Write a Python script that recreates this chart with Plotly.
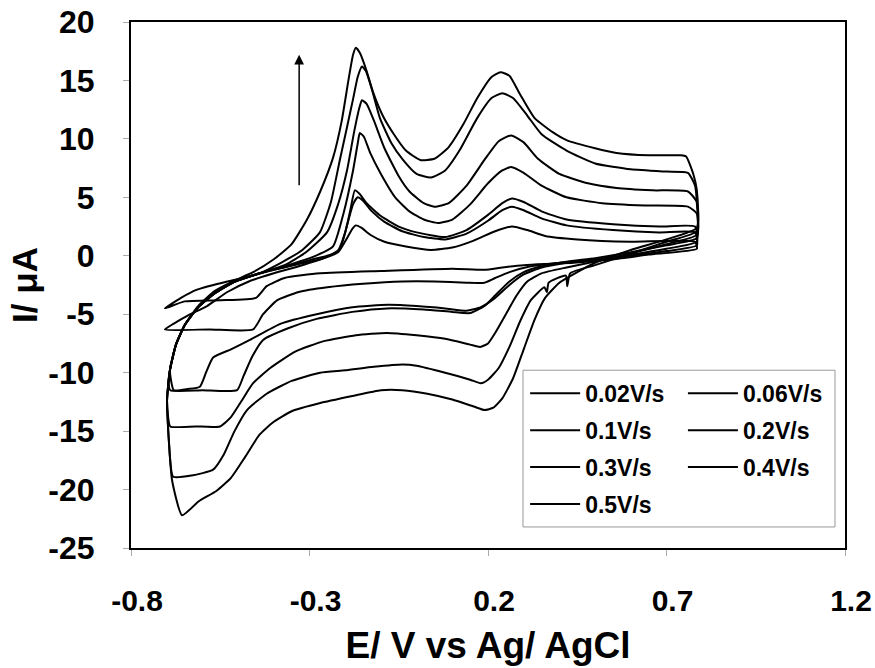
import plotly.graph_objects as go

# ---------------- data ----------------
scan_rates = ["0.02V/s", "0.06V/s", "0.1V/s", "0.2V/s", "0.3V/s", "0.4V/s", "0.5V/s"]

x_tickvals = [-0.8, -0.3, 0.2, 0.7, 1.2]
x_ticktext = ["-0.8", "-0.3", "0.2", "0.7", "1.2"]
y_tickvals = [20, 15, 10, 5, 0, -5, -10, -15, -20, -25]
y_ticktext = ["20", "15", "10", "5", "0", "-5", "-10", "-15", "-20", "-25"]

# each curve: (E / V, I / uA) points, forward scan then reverse scan
cv_002 = [(-0.705, -4.5), (-0.66, -3.6), (-0.615, -2.9), (-0.53, -2.2), (-0.47, -1.8), (-0.40, -1.2),
          (-0.33, -0.7), (-0.27, -0.3), (-0.22, 0.3), (-0.195, 1.5), (-0.18, 2.3), (-0.17, 2.6),
          (-0.155, 2.4), (-0.13, 1.8), (-0.09, 1.2), (-0.03, 0.8), (0.04, 0.5), (0.10, 0.7),
          (0.16, 1.3), (0.22, 2.1), (0.267, 2.5), (0.31, 2.2), (0.36, 1.7), (0.45, 1.4),
          (0.60, 1.2), (0.78, 1.2),
          (0.785, 0.6), (0.65, 0.1), (0.55, -0.3), (0.44, -0.6), (0.36, -0.7), (0.30, -0.8),
          (0.24, -1.0), (0.19, -1.2), (0.10, -1.1), (-0.10, -1.3), (-0.27, -1.5), (-0.37, -1.9),
          (-0.42, -2.6), (-0.45, -3.6), (-0.55, -3.8), (-0.65, -3.9), (-0.705, -4.5)]

cv_006 = [(-0.705, -6.3), (-0.68, -5.8), (-0.64, -5.1), (-0.587, -4.3), (-0.53, -3.1), (-0.47, -2.2),
          (-0.40, -1.5), (-0.33, -0.9), (-0.26, -0.2), (-0.215, 0.6), (-0.195, 2.6), (-0.178, 4.4),
          (-0.165, 5.0), (-0.15, 4.7), (-0.125, 3.8), (-0.09, 2.9), (-0.04, 2.1), (0.02, 1.6),
          (0.08, 1.4), (0.14, 1.9), (0.20, 3.0), (0.24, 3.9), (0.267, 4.2), (0.30, 3.9),
          (0.35, 3.2), (0.42, 2.6), (0.55, 2.2), (0.68, 2.0), (0.78, 2.0),
          (0.785, 0.9), (0.70, 0.4), (0.60, 0.0), (0.50, -0.3), (0.40, -0.6), (0.32, -0.9),
          (0.26, -1.4), (0.22, -1.9), (0.19, -2.3), (0.14, -2.3), (0.05, -2.2), (-0.04, -2.2),
          (-0.15, -2.4), (-0.25, -2.7), (-0.33, -3.1), (-0.39, -3.8), (-0.43, -5.0),
          (-0.458, -6.3), (-0.58, -6.3), (-0.705, -6.3)]

cv_01 = [(-0.68, -11.5), (-0.691, -9.8), (-0.674, -7.6), (-0.649, -5.9), (-0.612, -4.4), (-0.565, -3.2),
         (-0.509, -2.2), (-0.44, -1.5), (-0.36, -0.9), (-0.29, -0.3), (-0.223, 0.3), (-0.20, 2.0),
         (-0.185, 4.0), (-0.173, 5.6), (-0.16, 5.3), (-0.14, 4.5), (-0.10, 3.4), (-0.05, 2.5),
         (0.0, 2.0), (0.08, 1.6), (0.14, 2.2), (0.20, 3.5), (0.24, 4.5), (0.267, 4.9), (0.30, 4.6),
         (0.35, 3.8), (0.42, 3.1), (0.55, 2.7), (0.68, 2.5), (0.78, 2.5),
         (0.785, 1.2), (0.70, 0.6), (0.60, 0.1), (0.50, -0.3), (0.42, -0.6), (0.35, -1.0),
         (0.30, -1.6), (0.26, -2.5), (0.22, -3.6), (0.18, -4.4), (0.14, -4.7), (0.08, -4.5),
         (0.0, -4.3), (-0.08, -4.2), (-0.18, -4.4), (-0.28, -5.0), (-0.38, -5.8), (-0.467, -7.2),
         (-0.52, -8.0), (-0.57, -8.7), (-0.59, -10.0), (-0.607, -11.2), (-0.64, -11.4), (-0.68, -11.5)]

cv_02 = [(-0.69, -11.5), (-0.695, -10.8), (-0.691, -9.8), (-0.674, -7.6), (-0.649, -5.9), (-0.612, -4.4),
         (-0.565, -3.2), (-0.509, -2.2), (-0.44, -1.5), (-0.36, -0.8), (-0.29, -0.1), (-0.234, 0.8),
         (-0.205, 3.6), (-0.178, 7.3), (-0.165, 9.6), (-0.159, 10.5), (-0.148, 10.2), (-0.13, 8.8),
         (-0.10, 7.0), (-0.06, 5.0), (-0.02, 3.8), (0.02, 3.1), (0.06, 2.8), (0.10, 3.1), (0.15, 4.4),
         (0.20, 6.2), (0.24, 7.3), (0.265, 7.6), (0.30, 7.1), (0.35, 6.0), (0.42, 5.0), (0.52, 4.5),
         (0.64, 4.3), (0.76, 4.2), (0.785, 3.6),
         (0.785, 1.5), (0.70, 0.9), (0.60, 0.3), (0.50, -0.2), (0.42, -0.5), (0.35, -0.9),
         (0.30, -1.4), (0.26, -2.2), (0.22, -3.4), (0.19, -4.3), (0.15, -4.9), (0.10, -4.8),
         (0.02, -4.6), (-0.083, -4.5), (-0.18, -4.8), (-0.28, -5.4), (-0.36, -6.2), (-0.43, -7.2),
         (-0.46, -8.6), (-0.485, -10.3), (-0.503, -11.5), (-0.60, -11.5), (-0.69, -11.5)]

cv_03 = [(-0.69, -14.6), (-0.697, -13.5), (-0.699, -12.3), (-0.691, -9.8), (-0.674, -7.6), (-0.649, -5.9),
         (-0.612, -4.4), (-0.565, -3.2), (-0.509, -2.2), (-0.44, -1.5), (-0.37, -0.8), (-0.31, 0.3),
         (-0.251, 2.0), (-0.22, 4.4), (-0.195, 7.3), (-0.175, 10.6), (-0.16, 12.7), (-0.153, 13.3),
         (-0.14, 13.0), (-0.12, 11.6), (-0.09, 9.2), (-0.05, 6.8), (-0.02, 5.5), (0.02, 4.5),
         (0.05, 4.2), (0.09, 4.5), (0.14, 6.0), (0.19, 8.2), (0.23, 9.8), (0.265, 10.3), (0.30, 9.7),
         (0.34, 8.3), (0.40, 7.0), (0.48, 6.2), (0.56, 5.8), (0.66, 5.6), (0.76, 5.5), (0.785, 4.6),
         (0.785, 1.8), (0.70, 1.0), (0.60, 0.2), (0.50, -0.5), (0.42, -1.0), (0.35, -1.5),
         (0.31, -2.2), (0.28, -3.4), (0.25, -5.0), (0.22, -6.6), (0.20, -7.5), (0.178, -7.8),
         (0.15, -7.6), (0.08, -7.1), (0.0, -6.8), (-0.083, -6.6), (-0.17, -6.8), (-0.26, -7.3),
         (-0.34, -8.2), (-0.41, -9.6), (-0.458, -10.9), (-0.49, -12.4), (-0.52, -13.8),
         (-0.551, -14.6), (-0.62, -14.6), (-0.69, -14.6)]

cv_04 = [(-0.682, -18.9), (-0.694, -15.8), (-0.699, -12.3), (-0.691, -9.8), (-0.674, -7.6), (-0.649, -5.9),
         (-0.612, -4.4), (-0.565, -3.2), (-0.509, -2.2), (-0.44, -1.5), (-0.38, -0.6), (-0.32, 0.5),
         (-0.271, 2.0), (-0.24, 4.6), (-0.215, 8.2), (-0.195, 11.0), (-0.178, 13.4), (-0.165, 15.3),
         (-0.153, 16.2), (-0.142, 15.8), (-0.125, 14.2), (-0.103, 11.8), (-0.07, 9.6), (-0.038, 8.2),
         (0.0, 7.0), (0.04, 6.7), (0.08, 7.3), (0.12, 9.0), (0.17, 11.8), (0.21, 13.5), (0.24, 13.9),
         (0.27, 13.5), (0.31, 12.0), (0.35, 10.4), (0.42, 9.0), (0.50, 7.9), (0.60, 7.4), (0.70, 7.2),
         (0.76, 7.1), (0.78, 6.0), (0.785, 4.5),
         (0.785, 2.1), (0.70, 1.2), (0.60, 0.2), (0.50, -0.8), (0.43, -1.5), (0.422, -2.6),
         (0.418, -1.7), (0.37, -2.3), (0.365, -3.1), (0.358, -2.7), (0.32, -3.8), (0.29, -5.6),
         (0.26, -7.8), (0.23, -9.6), (0.20, -10.6), (0.18, -10.9), (0.15, -10.6), (0.08, -10.0),
         (0.0, -9.4), (-0.04, -9.3), (-0.12, -9.5), (-0.20, -9.8), (-0.27, -10.0), (-0.35, -10.7),
         (-0.42, -11.8), (-0.475, -13.2), (-0.51, -15.0), (-0.54, -17.0), (-0.57, -18.3),
         (-0.63, -18.8), (-0.682, -18.9)]

cv_05 = [(-0.657, -22.2), (-0.685, -19.2), (-0.694, -15.8), (-0.699, -12.3), (-0.691, -9.8), (-0.674, -7.6),
         (-0.649, -5.9), (-0.612, -4.3), (-0.565, -3.0), (-0.509, -2.1), (-0.458, -1.4), (-0.40, -0.3),
         (-0.35, 1.0), (-0.307, 3.1), (-0.27, 5.5), (-0.234, 8.4), (-0.21, 11.5), (-0.19, 15.2),
         (-0.178, 17.2), (-0.170, 17.8), (-0.158, 17.3), (-0.14, 15.8), (-0.122, 14.0), (-0.095, 12.0),
         (-0.066, 10.5), (-0.03, 9.0), (0.01, 8.2), (0.05, 8.3), (0.09, 9.3), (0.13, 11.2),
         (0.17, 13.5), (0.21, 15.3), (0.235, 15.7), (0.26, 15.4), (0.29, 13.8), (0.33, 11.8),
         (0.38, 10.6), (0.42, 9.9), (0.50, 9.2), (0.56, 8.8), (0.65, 8.6), (0.74, 8.6), (0.755, 8.5),
         (0.775, 7.0), (0.785, 5.6),
         (0.785, 2.4), (0.70, 1.4), (0.60, 0.5), (0.50, -0.6), (0.45, -1.4), (0.40, -2.3),
         (0.36, -3.6), (0.33, -5.5), (0.30, -8.0), (0.27, -10.5), (0.24, -12.2), (0.215, -13.0),
         (0.19, -13.2), (0.16, -12.9), (0.10, -12.3), (0.03, -11.8), (-0.04, -11.5), (-0.10, -11.5),
         (-0.18, -12.0), (-0.27, -12.6), (-0.35, -13.3), (-0.40, -14.2), (-0.44, -15.3),
         (-0.48, -17.2), (-0.52, -19.0), (-0.56, -20.1), (-0.61, -21.0), (-0.657, -22.2)]

curves = [cv_002, cv_006, cv_01, cv_02, cv_03, cv_04, cv_05]

# arrow marking increasing scan rate (E, I)
arrow_tail = (-0.329, 5.9)
arrow_head = (-0.329, 17.2)

# ---------------- figure ----------------
FONT = "Liberation Sans, Arial, sans-serif"

fig = go.Figure()
col1 = {0, 2, 4, 6}
for idx, (name, pts) in enumerate(zip(scan_rates, curves)):
    fig.add_trace(go.Scatter(
        x=[p[0] for p in pts], y=[p[1] for p in pts],
        mode="lines", name=name,
        line=dict(color="black", width=2, shape="spline", smoothing=0.5),
        legend="legend" if idx in col1 else "legend2",
        legendgroup=name,
        legendrank=idx,
    ))

fig.add_annotation(
    x=arrow_head[0], y=arrow_head[1], ax=arrow_tail[0], ay=arrow_tail[1],
    xref="x", yref="y", axref="x", ayref="y",
    text="", showarrow=True, arrowhead=2, arrowsize=1.3, arrowwidth=1.5,
    arrowcolor="black",
)

# legend frame
fig.add_shape(type="rect", xref="paper", yref="paper",
              x0=0.549, x1=0.986, y0=0.04, y1=0.338,
              line=dict(color="#999999", width=1), fillcolor="rgba(0,0,0,0)", layer="above")

legend_common = dict(
    font=dict(family=FONT, size=23, color="black", weight="bold"),
    bgcolor="rgba(0,0,0,0)", borderwidth=0,
    orientation="v", xanchor="left", yanchor="top",
    tracegroupgap=4, itemwidth=50, traceorder="grouped",
)

fig.update_layout(
    width=875, height=668,
    margin=dict(l=131, r=30, t=22, b=120, autoexpand=False),
    paper_bgcolor="white", plot_bgcolor="white",
    showlegend=True,
    legend=dict(x=0.552, y=0.335, **legend_common),
    legend2=dict(x=0.773, y=0.335, **legend_common),
    xaxis=dict(
        range=[-0.8, 1.2], tickvals=x_tickvals, ticktext=x_ticktext,
        showgrid=False, zeroline=False, automargin=False,
        showline=True, mirror=True, linecolor="black", linewidth=2,
        ticks="outside", ticklen=6, tickcolor="#aaaaaa", tickwidth=1,
        tickfont=dict(family=FONT, size=30, color="black", weight="bold"),
        ticklabelstandoff=19, ticklabelshift=6, ticklabeloverflow="allow",
        title=dict(text="E/ V vs Ag/ AgCl", standoff=16,
                   font=dict(family=FONT, size=37, color="black", weight="bold")),
    ),
    yaxis=dict(
        range=[-25, 20], tickvals=y_tickvals, ticktext=y_ticktext,
        showgrid=False, zeroline=False, automargin=False,
        showline=True, mirror=True, linecolor="black", linewidth=2,
        ticks="outside", ticklen=6, tickcolor="#aaaaaa", tickwidth=1,
        tickfont=dict(family=FONT, size=32, color="black", weight="bold"),
        ticklabelstandoff=22,
        title=dict(text="I/ μA", standoff=0,
                   font=dict(family=FONT, size=35, color="black", weight="bold")),
    ),
)

fig.write_html("out.html")
